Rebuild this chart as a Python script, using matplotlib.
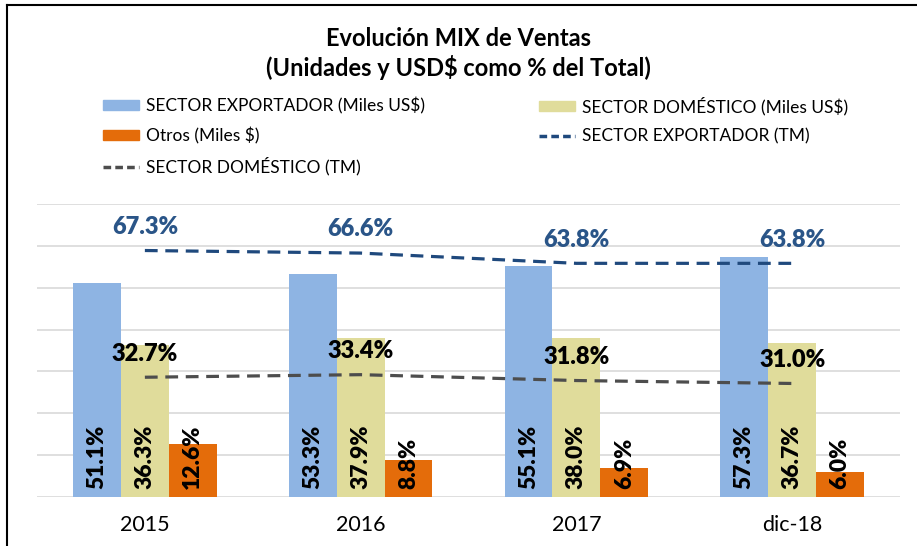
import matplotlib
matplotlib.use("Agg")
import matplotlib.pyplot as plt
from matplotlib.lines import Line2D
from matplotlib.patches import Patch
import numpy as np

plt.rcParams['font.family'] = ['Lato', 'DejaVu Sans']

categorias = ["2015", "2016", "2017", "dic-18"]
exportador_usd = [51.1, 53.3, 55.1, 57.3]
domestico_usd = [36.3, 37.9, 38.0, 36.7]
otros = [12.6, 8.8, 6.9, 6.0]
exportador_tm = [67.3, 66.6, 63.8, 63.8]
domestico_tm = [32.7, 33.4, 31.8, 31.0]

c_azul = "#8EB4E3"
c_amarillo = "#E0DC9B"
c_naranja = "#E46C0A"
c_linea_exp = "#1F497D"
c_linea_dom = "#4D4D4D"
c_lbl_exp = "#2A5588"

fig = plt.figure(figsize=(9.17, 5.46), dpi=100)
ax = fig.add_axes([37 / 917, 49 / 546, 863 / 917, 293 / 546])
ax2 = ax.twinx()

x = np.arange(len(categorias))
w = 0.222

series = [(exportador_usd, c_azul, -w), (domestico_usd, c_amarillo, 0), (otros, c_naranja, w)]
for vals, col, off in series:
    bars = ax.bar(x + off, np.array(vals) / 100, width=w, color=col, zorder=2)
    for b, v in zip(bars, vals):
        ax.annotate(f"{v:.1f}%", (b.get_x() + b.get_width() / 2, 0),
                    xytext=(0, 6), textcoords="offset points",
                    rotation=90, ha="center", va="bottom",
                    fontsize=16.5, fontweight="heavy", color="black", zorder=5)

ax.set_ylim(0, 0.7)
ax.set_xlim(-0.5, len(categorias) - 0.5)
ax.set_yticks(np.arange(0, 0.71, 0.1))
ax.yaxis.grid(True, color="#D9D9D9", linewidth=1.2, zorder=0)
ax.set_axisbelow(True)
ax.tick_params(axis="y", left=False, labelleft=False)
ax.tick_params(axis="x", length=0, pad=13, labelsize=15.5)
ax.set_xticks(x)
ax.set_xticklabels(categorias)
for s in ax.spines.values():
    s.set_visible(False)

ax2.plot(x, np.array(exportador_tm) / 100, color=c_linea_exp, lw=2.3, dashes=(4, 2.4), zorder=4)
ax2.plot(x, np.array(domestico_tm) / 100, color=c_linea_dom, lw=2.3, dashes=(4, 2.4), zorder=4)
for xi, v in zip(x, exportador_tm):
    ax2.annotate(f"{v:.1f}%", (xi, v / 100), xytext=(0, 17), textcoords="offset points",
                 ha="center", va="center", fontsize=17, fontweight="heavy", color=c_lbl_exp)
for xi, v in zip(x, domestico_tm):
    ax2.annotate(f"{v:.1f}%", (xi, v / 100), xytext=(0, 17), textcoords="offset points",
                 ha="center", va="center", fontsize=17, fontweight="heavy", color="black")
ax2.set_ylim(0, 0.8)
ax2.tick_params(axis="y", right=False, labelright=False)
for s in ax2.spines.values():
    s.set_visible(False)

fig.text(0.5, 1 - 38 / 546, "Evolución MIX de Ventas", ha="center", va="center",
         fontsize=17, fontweight="bold")
fig.text(0.5, 1 - 68 / 546, "(Unidades y USD$ como % del Total)", ha="center", va="center",
         fontsize=17, fontweight="bold")

h_exp = Patch(color=c_azul)
h_dom = Patch(color=c_amarillo)
h_otr = Patch(color=c_naranja)
h_exp_tm = Line2D([], [], color=c_linea_exp, lw=2.5, dashes=(2.2, 1.2))
h_dom_tm = Line2D([], [], color=c_linea_dom, lw=2.5, dashes=(2.2, 1.2))

leg_kw = dict(frameon=False, fontsize=12.5, handlelength=2.1, handleheight=0.5,
              handletextpad=0.35, labelspacing=0.75, loc="upper left", borderaxespad=0,
              borderpad=0)
leg1 = fig.legend([h_exp, h_otr, h_dom_tm],
                  ["SECTOR EXPORTADOR (Miles US$)", "Otros (Miles $)", "SECTOR DOMÉSTICO (TM)"],
                  bbox_to_anchor=(103 / 917, 1 - 97 / 546), **leg_kw)
leg2 = fig.legend([h_dom, h_exp_tm],
                  ["SECTOR DOMÉSTICO (Miles US$)", "SECTOR EXPORTADOR (TM)"],
                  bbox_to_anchor=(539 / 917, 1 - 97 / 546), **leg_kw)

fig.add_artist(Line2D([7 / 917, 1], [1 - 5 / 546, 1 - 5 / 546], color="black", lw=1.5))
fig.add_artist(Line2D([7 / 917, 7 / 917], [0, 1 - 5 / 546], color="black", lw=1.5))

fig.savefig("out.png", dpi=100)
